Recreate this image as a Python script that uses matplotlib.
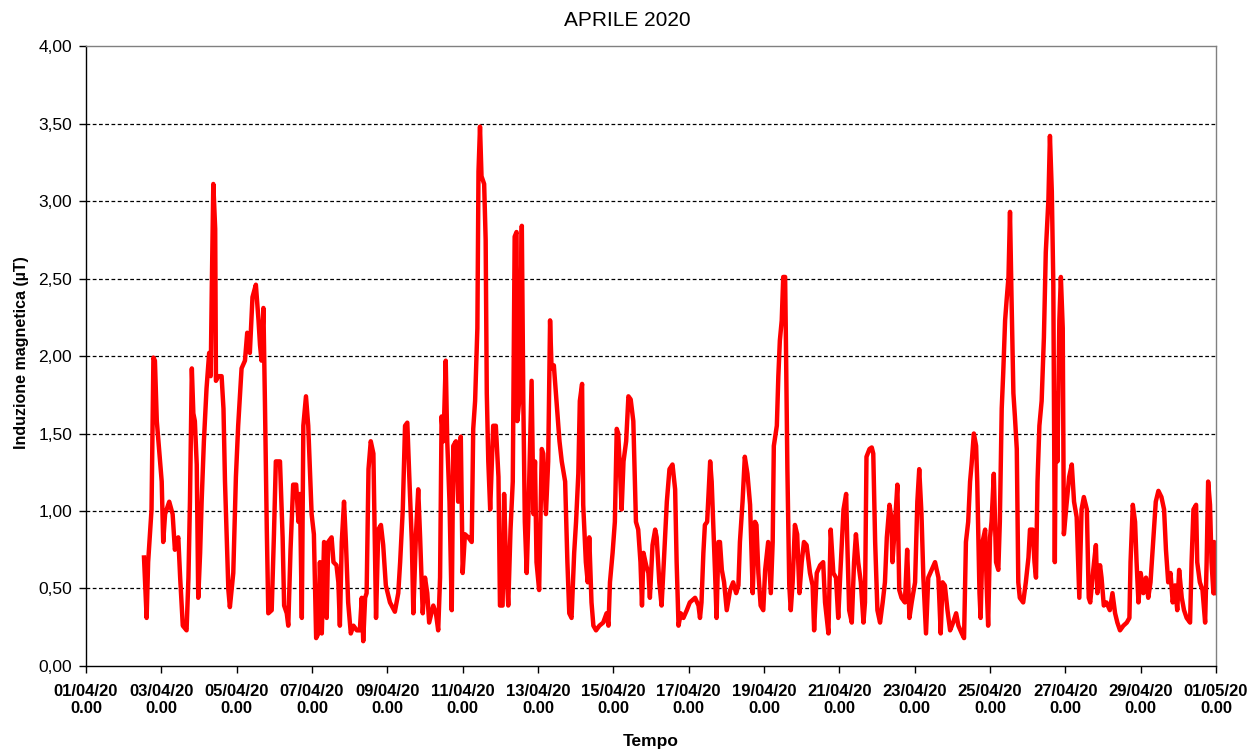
import matplotlib
matplotlib.use("Agg")
import matplotlib.pyplot as plt
import pandas as pd

plt.rcParams['font.family'] = ['Liberation Sans', 'DejaVu Sans']

# giorni trascorsi dal 01/04/2020 00:00 e induzione magnetica (uT)
giorni = [
    1.54, 1.61, 1.65, 1.74, 1.79, 1.83, 1.88, 1.95, 2.01, 2.05, 2.10, 2.21, 2.30, 2.36, 2.45, 2.50,
    2.57, 2.67, 2.72, 2.76, 2.81, 2.85, 2.89, 2.94, 2.98, 3.03, 3.07, 3.13, 3.20, 3.27, 3.31, 3.34,
    3.38, 3.43, 3.45, 3.51, 3.60, 3.65, 3.69, 3.78, 3.82, 3.91, 3.98, 4.04, 4.13, 4.22, 4.28, 4.35,
    4.42, 4.51, 4.58, 4.62, 4.66, 4.71, 4.75, 4.80, 4.84, 4.93, 4.99, 5.04, 5.15, 5.22, 5.26, 5.33,
    5.37, 5.43, 5.50, 5.58, 5.64, 5.68, 5.73, 5.77, 5.84, 5.90, 5.99, 6.05, 6.11, 6.17,
    6.21, 6.26, 6.32, 6.39, 6.43, 6.52, 6.57, 6.65, 6.70, 6.74, 6.79, 6.85, 6.90, 6.96, 7.03, 7.10,
    7.19, 7.27, 7.32, 7.36, 7.41, 7.45, 7.50, 7.56, 7.63, 7.70, 7.76, 7.83, 7.89, 7.96, 8.07, 8.20,
    8.29, 8.34, 8.41, 8.47, 8.53, 8.58, 8.65, 8.69, 8.76, 8.82, 8.87, 8.94, 9.00, 9.06, 9.11, 9.22,
    9.29, 9.35, 9.40, 9.44, 9.49, 9.55, 9.59, 9.65, 9.71, 9.75, 9.82, 9.88, 9.95, 10.00, 10.06, 10.15,
    10.24, 10.28, 10.33, 10.39, 10.42, 10.46, 10.50, 10.57, 10.61, 10.64, 10.68, 10.73, 10.81, 10.88,
    10.95, 10.99, 11.06, 11.10, 11.15, 11.21, 11.27, 11.33,
    11.38, 11.43, 11.45, 11.50, 11.57, 11.61, 11.65, 11.70, 11.74, 11.83, 11.88, 11.92, 11.96, 12.03,
    12.10, 12.14, 12.21, 12.27, 12.32, 12.36, 12.42, 12.49, 12.57, 12.63, 12.72, 12.78, 12.83, 12.89,
    12.96, 13.01, 13.07, 13.11, 13.17, 13.20, 13.27, 13.32, 13.36, 13.42, 13.47, 13.54, 13.63, 13.73,
    13.82, 13.87, 13.91, 13.98, 14.04, 14.09, 14.13, 14.18, 14.22, 14.27, 14.34, 14.40, 14.46, 14.53,
    14.60, 14.66, 14.72, 14.76, 14.80, 14.87, 14.93, 14.97, 15.04, 15.11, 15.15, 15.22, 15.28, 15.34,
    15.42, 15.49, 15.57, 15.64, 15.68, 15.73, 15.79, 15.86, 15.95, 16.03, 16.17, 16.26,
    16.30, 16.34, 16.39, 16.43, 16.49, 16.57, 16.61, 16.65, 16.70, 16.74, 16.79, 16.83, 16.88, 16.94,
    17.01, 17.10, 17.18, 17.26, 17.32, 17.36, 17.43, 17.49, 17.56, 17.63, 17.70, 17.76, 17.80, 17.85,
    17.91, 17.98, 18.03, 18.11, 18.18, 18.23, 18.26, 18.34, 18.38, 18.42, 18.47, 18.51, 18.56, 18.58,
    18.62, 18.67, 18.71, 18.76, 18.82, 18.88, 18.94, 19.00, 19.06, 19.13, 19.22, 19.29, 19.33, 19.40,
    19.49, 19.57, 19.62, 19.71, 19.77, 19.84, 19.91, 19.97, 20.03, 20.11, 20.18, 20.21, 20.26, 20.33,
    20.39, 20.44, 20.50, 20.57, 20.64, 20.68, 20.72, 20.80, 20.86, 20.90, 20.95, 21.01, 21.08, 21.15,
    21.21, 21.26, 21.33,
    21.38, 21.41, 21.48, 21.54, 21.59, 21.65, 21.74, 21.80, 21.86, 21.92, 22.01, 22.07, 22.12, 22.18,
    22.23, 22.30, 22.36, 22.45, 22.54, 22.63, 22.69, 22.74, 22.80, 22.87, 22.94, 23.02, 23.10, 23.16,
    23.25, 23.31, 23.36, 23.42, 23.47, 23.51, 23.57, 23.63, 23.66, 23.72, 23.75, 23.80, 23.87, 23.91,
    23.95, 24.00, 24.04, 24.10, 24.16, 24.22, 24.26, 24.31, 24.35, 24.40, 24.44, 24.49, 24.53, 24.57,
    24.62, 24.66, 24.71, 24.75, 24.79, 24.88, 24.95, 25.02, 25.06, 25.13, 25.18, 25.22, 25.26, 25.31,
    25.37, 25.43, 25.48, 25.55, 25.59, 25.64, 25.68, 25.72, 25.75, 25.79, 25.84, 25.88, 25.93, 25.96,
    26.03, 26.10, 26.17, 26.23, 26.30, 26.37, 26.43, 26.49, 26.57, 26.62,
    26.66, 26.74, 26.81, 26.85, 26.92, 26.96, 27.02, 27.09, 27.18, 27.25, 27.32, 27.38, 27.45, 27.54,
    27.63, 27.70, 27.73, 27.79, 27.85, 27.89, 27.94, 28.00, 28.07, 28.14, 28.20, 28.26, 28.33, 28.40,
    28.47, 28.55, 28.62, 28.67, 28.73, 28.79, 28.85, 28.91, 28.97, 29.02, 29.09, 29.15, 29.22, 29.31,
    29.35, 29.40, 29.47, 29.50, 29.57, 29.64, 29.71, 29.75, 29.79, 29.84, 29.88, 29.93, 29.95, 29.98,
]
valori = [
    0.70, 0.31, 0.67, 1.01, 1.99, 1.97, 1.58, 1.37, 1.19, 0.80, 0.98, 1.06, 0.98, 0.75, 0.83, 0.57,
    0.26, 0.23, 0.57, 1.06, 1.92, 1.63, 1.58, 1.30, 0.44, 0.73, 1.06, 1.45, 1.79, 2.02, 1.87, 2.44,
    3.11, 2.82, 1.84, 1.87, 1.87, 1.66, 1.19, 0.49, 0.38, 0.60, 1.22, 1.55, 1.92, 1.97, 2.15, 2.02,
    2.38, 2.46, 2.23, 2.07, 1.97, 2.31, 1.71, 0.88, 0.34, 0.36, 0.85, 1.32, 1.32, 0.83, 0.39, 0.34,
    0.26, 0.75, 1.17, 1.17, 0.93, 1.11, 0.31, 1.55, 1.74, 1.55, 0.98, 0.85, 0.18, 0.21,
    0.67, 0.21, 0.80, 0.31, 0.80, 0.83, 0.67, 0.65, 0.54, 0.26, 0.80, 1.06, 0.80, 0.41, 0.21, 0.26,
    0.23, 0.23, 0.44, 0.16, 0.44, 0.47, 1.27, 1.45, 1.37, 0.31, 0.88, 0.91, 0.78, 0.52, 0.41, 0.35,
    0.47, 0.67, 1.01, 1.55, 1.57, 1.24, 0.80, 0.34, 0.85, 1.14, 0.83, 0.34, 0.57, 0.47, 0.28, 0.39,
    0.34, 0.23, 0.57, 1.61, 1.45, 1.97, 1.45, 1.06, 0.36, 1.42, 1.45, 1.06, 1.48, 0.60, 0.85, 0.83,
    0.80, 1.53, 1.71, 2.18, 3.19, 3.48, 3.16, 3.11, 2.75, 1.76, 1.32, 1.01, 1.55, 1.55,
    1.22, 0.39, 0.39, 1.11, 0.67, 0.39, 0.88, 1.19,
    2.77, 2.80, 1.58, 1.71, 2.84, 1.71, 0.93, 0.60, 0.93, 1.84, 0.98, 1.32, 0.67, 0.49,
    1.40, 1.37, 0.98, 1.32, 2.23, 1.92, 1.94, 1.71, 1.45, 1.32, 1.19, 0.67, 0.34, 0.31,
    0.73, 0.93, 1.24, 1.71, 1.82, 1.04, 0.67, 0.54, 0.83, 0.41, 0.26, 0.23, 0.26, 0.28,
    0.34, 0.26, 0.54, 0.73, 0.93, 1.53, 1.50, 1.24, 1.01, 1.32, 1.45, 1.74, 1.72, 1.58,
    0.93, 0.88, 0.67, 0.39, 0.73, 0.65, 0.60, 0.44, 0.78, 0.88, 0.83, 0.54, 0.39, 0.67,
    1.06, 1.27, 1.30, 1.14, 0.67, 0.26, 0.34, 0.31, 0.36, 0.41, 0.44, 0.39,
    0.31, 0.41, 0.73, 0.91, 0.93, 1.32, 1.19, 0.93, 0.60, 0.31, 0.80, 0.80, 0.62, 0.54,
    0.36, 0.49, 0.54, 0.47, 0.52, 0.80, 1.06, 1.35, 1.24, 1.04, 0.47, 0.93, 0.91, 0.60,
    0.39, 0.36, 0.62, 0.80, 0.47, 0.80, 1.42, 1.55, 1.87, 2.10, 2.23, 2.51, 2.51, 2.12,
    1.27, 0.52, 0.36, 0.54, 0.91, 0.85, 0.47, 0.67, 0.80, 0.78, 0.60, 0.52, 0.23, 0.60,
    0.65, 0.67, 0.41, 0.21, 0.88, 0.60, 0.57, 0.31, 0.62, 1.01, 1.11, 0.80, 0.36, 0.28,
    0.67, 0.85, 0.67, 0.54, 0.28, 0.41, 1.35, 1.40, 1.41, 1.37, 0.80, 0.36, 0.28, 0.41,
    0.54, 0.83, 1.04,
    0.96, 0.67, 0.93, 1.17, 0.49, 0.44, 0.41, 0.75, 0.31, 0.41, 0.54, 1.06, 1.27, 0.98,
    0.57, 0.21, 0.57, 0.62, 0.67, 0.57, 0.21, 0.54, 0.52, 0.36, 0.23, 0.28, 0.34, 0.26,
    0.21, 0.18, 0.80, 0.93, 1.19, 1.30, 1.50, 1.42, 1.19, 0.47, 0.31, 0.80, 0.88, 0.52,
    0.26, 0.83, 0.93, 1.24, 0.67, 0.62, 0.93, 1.66, 1.89, 2.23, 2.36, 2.51, 2.93, 2.38,
    1.76, 1.61, 1.40, 0.54, 0.44, 0.41, 0.54, 0.70, 0.88, 0.88, 0.67, 0.57, 1.19, 1.55,
    1.71, 2.12, 2.67, 3.01, 3.42, 3.06, 2.46, 0.67, 1.76, 1.32, 2.23, 2.51, 2.18, 0.85,
    1.04, 1.22, 1.30, 1.06, 0.96, 0.44, 1.01, 1.09, 1.01, 0.44,
    0.41, 0.62, 0.78, 0.47, 0.65, 0.57, 0.39, 0.41, 0.36, 0.47, 0.34, 0.28, 0.23, 0.26,
    0.28, 0.31, 0.67, 1.04, 0.93, 0.67, 0.41, 0.60, 0.47, 0.57, 0.44, 0.54, 0.80, 1.06,
    1.13, 1.09, 1.01, 0.75, 0.54, 0.60, 0.41, 0.52, 0.36, 0.62, 0.44, 0.36, 0.31, 0.28,
    0.67, 1.01, 1.04, 0.67, 0.54, 0.49, 0.28, 0.67, 1.19, 1.04, 0.67, 0.47, 0.80, 0.47,
]

inizio = pd.Timestamp('2020-04-01')
tempo = inizio + pd.to_timedelta(giorni, unit='D')
tick_date = pd.date_range('2020-04-01', '2020-05-01', freq='2D')
tick_label = [d.strftime('%d/%m/%y') + '\n0.00' for d in tick_date]
y_tick = [0, 0.5, 1, 1.5, 2, 2.5, 3, 3.5, 4]
y_label = ['0,00', '0,50', '1,00', '1,50', '2,00', '2,50', '3,00', '3,50', '4,00']

fig = plt.figure(figsize=(12.48, 7.51), dpi=100)
ax = fig.add_axes([0.0689, 0.1132, 0.9055, 0.8255])

ax.plot(tempo, valori, color='#ff0000', lw=3.2, solid_joinstyle='round')

ax.set_xlim(inizio, pd.Timestamp('2020-05-01'))
ax.set_ylim(0, 4)
ax.set_xticks(tick_date)
ax.set_xticklabels(tick_label, fontsize=12, fontweight='bold', linespacing=1.2)
ax.set_yticks(y_tick)
ax.set_yticklabels(y_label, fontsize=12.5)

for v in y_tick[1:-1]:
    ax.axhline(v, color='black', lw=0.9, ls=(0, (3, 2)), zorder=0)

ax.spines['left'].set_color('black')
ax.spines['bottom'].set_color('black')
ax.spines['top'].set_color('#808080')
ax.spines['right'].set_color('#808080')
for s in ax.spines.values():
    s.set_linewidth(1.0)
ax.tick_params(axis='y', direction='out', length=5, width=1, pad=5)
ax.tick_params(axis='x', direction='out', length=5, width=1, pad=8)

fig.text(0.503, 0.973, 'APRILE 2020', fontsize=15, ha='center', va='center')
fig.text(0.017, 0.530, 'Induzione magnetica (µT)', fontsize=11.5, fontweight='bold',
         rotation=90, ha='center', va='center')
fig.text(0.521, 0.012, 'Tempo', fontsize=12.5, fontweight='bold', ha='center', va='center')

plt.savefig('out.png', dpi=100)
